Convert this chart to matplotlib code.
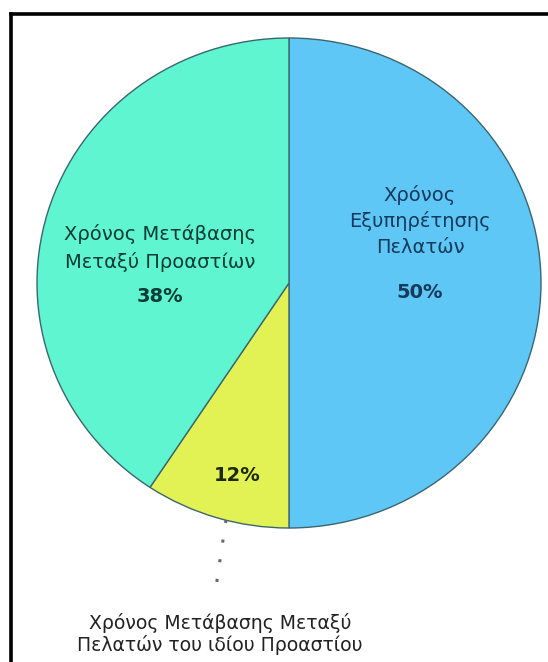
import matplotlib
matplotlib.use("Agg")
import matplotlib.pyplot as plt
from matplotlib.lines import Line2D

# slice sizes as drawn in the source picture (the source drawing is not to scale)
drawn_share = [50, 9.3, 40.7]
pct_labels = ["50%", "12%", "38%"]
slice_names = ["Χρόνος\nΕξυπηρέτησης\nΠελατών",
               "Χρόνος Μετάβασης Μεταξύ\nΠελατών του ιδίου Προαστίου",
               "Χρόνος Μετάβασης\nΜεταξύ Προαστίων"]
colors = ["#5ec7f5", "#e2f255", "#5ef5d0"]

W, H = 548, 662
fig = plt.figure(figsize=(W/100, H/100), dpi=100)
fig.patch.set_facecolor("white")

# pie centre (289, 283) px, radii 252 x 245 px
cx, cy, rx, ry = 289, 283, 252, 245
ax = fig.add_axes([(cx-rx)/W, (H-cy-ry)/H, 2*rx/W, 2*ry/H])
ax.pie(drawn_share, colors=colors, startangle=90, counterclock=False,
       wedgeprops=dict(edgecolor="#3b6670", linewidth=1.0))
ax.set_aspect("auto")
ax.set_xlim(-1, 1)
ax.set_ylim(-1, 1)
ax.axis("off")

fs = 14
ax.text(0.52, 0.255, slice_names[0], ha="center", va="center", fontsize=fs,
        color="#163a5c", linespacing=1.42)
ax.text(0.52, -0.04, pct_labels[0], ha="center", va="center", fontsize=fs,
        color="#163a5c", fontweight="bold")
ax.text(-0.51, 0.143, slice_names[2], ha="center", va="center", fontsize=fs,
        color="#0d3b35", linespacing=1.55)
ax.text(-0.51, -0.057, pct_labels[2], ha="center", va="center", fontsize=fs,
        color="#0d3b35", fontweight="bold")
ax.text(-0.206, -0.784, pct_labels[1], ha="center", va="center", fontsize=fs,
        color="#1e2a05", fontweight="bold")

# dotted leader line to the outside label
ax.plot([-0.25, -0.296], [-0.967, -1.285], linestyle=(0, (1, 5.5)), color="#666666",
        linewidth=2.2, clip_on=False)
ax.text(-0.274, -1.432, slice_names[1], ha="center", va="center", fontsize=13.6,
        color="#222222", linespacing=1.15, clip_on=False)

# clipped frame of the original screenshot (top and left edges only)
fig.add_artist(Line2D([10.5/W, 1], [1-13.5/H, 1-13.5/H], color="black", linewidth=2.6))
fig.add_artist(Line2D([10.5/W, 10.5/W], [0, 1-13.5/H], color="black", linewidth=2.6))

fig.savefig("out.png", dpi=100)
